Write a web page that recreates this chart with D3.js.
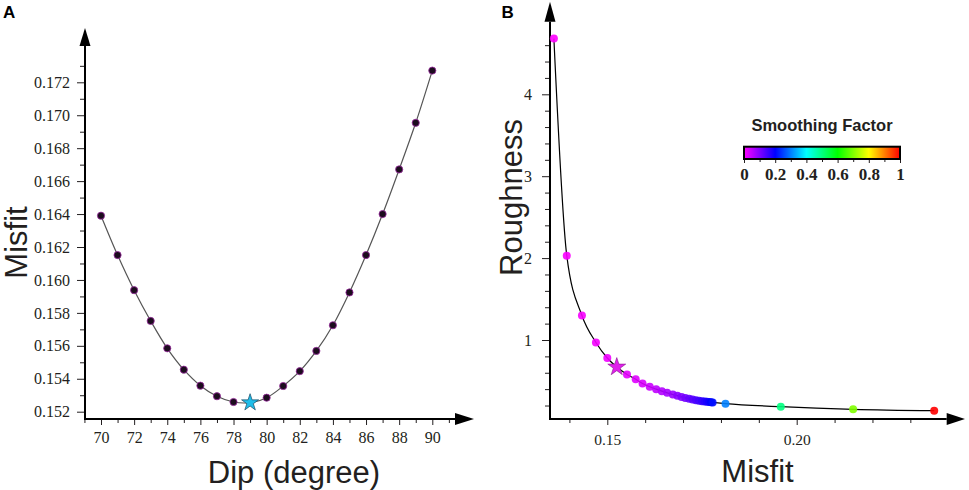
<!DOCTYPE html>
<html>
<head>
<meta charset="utf-8">
<script src="https://cdn.jsdelivr.net/npm/d3@7"></script>
<style>
  body { margin: 0; background: #fff; }
  svg { display: block; }
  .tick text { font-family: "Liberation Serif", "Times New Roman", serif !important; }
</style>
</head>
<body>
<svg width="969" height="490"></svg>
<script>
// panel A : misfit as a function of dip
const dip = [70, 71, 72, 73, 74, 75, 76, 77, 78, 79, 80, 81, 82, 83, 84, 85, 86, 87, 88, 89, 90];
const misfitA = [0.16390, 0.16151, 0.15938, 0.15751, 0.15585, 0.15455, 0.15358, 0.15294, 0.15259, 0.15255,
                 0.15285, 0.15356, 0.15446, 0.15569, 0.15725, 0.15924, 0.16151, 0.16400, 0.16671, 0.16954, 0.17271];
const bestDip = 79;
const dipTicks = [70, 72, 74, 76, 78, 80, 82, 84, 86, 88, 90];
const misfitTicks = [0.152, 0.154, 0.156, 0.158, 0.160, 0.162, 0.164, 0.166, 0.168, 0.170, 0.172];

// panel B : L-curve, roughness vs misfit, coloured by smoothing factor
const misfitB = [0.1359, 0.1393, 0.1433, 0.1470, 0.1500, 0.1525, 0.1552, 0.1575, 0.1593, 0.1612,
                 0.1629, 0.1644, 0.1658, 0.1673, 0.1685, 0.1696, 0.1706, 0.1716, 0.1725, 0.1734,
                 0.1742, 0.1750, 0.1757, 0.1763, 0.1769, 0.1774, 0.1778, 0.1812, 0.1958, 0.2149, 0.2363];
const roughness = [4.68, 2.03, 1.30, 0.97, 0.78, 0.67, 0.58, 0.52, 0.47, 0.43,
                   0.40, 0.375, 0.355, 0.335, 0.320, 0.305, 0.293, 0.282, 0.272, 0.264,
                   0.257, 0.252, 0.248, 0.245, 0.242, 0.240, 0.238, 0.222, 0.186, 0.154, 0.137];
const smoothing = [0.000, 0.003, 0.006, 0.009, 0.012, 0.015, 0.020, 0.025, 0.030, 0.040,
                   0.050, 0.060, 0.070, 0.080, 0.090, 0.100, 0.110, 0.120, 0.130, 0.140,
                   0.150, 0.160, 0.170, 0.180, 0.190, 0.200, 0.210, 0.30, 0.50, 0.70, 1.00];
const bestIndex = 5;
const roughTicks = [1, 2, 3, 4];
const misfitBTicks = [0.15, 0.20];
const barTicks = [0, 0.2, 0.4, 0.6, 0.8, 1];

const svg = d3.select("svg");
const ink = "#231f20";
const serif = "'Liberation Serif', 'Times New Roman', serif";
const sans = "'Liberation Sans', Arial, sans-serif";

const color = d3.scaleLinear()
    .domain([0, 0.2, 0.4, 0.6, 0.8, 1])
    .range(["#ff00ff", "#0000ff", "#00ffff", "#00ff00", "#ffff00", "#ff0000"]);

// helper: axis line with a filled arrow head
function arrowAxis(g, x1, y1, x2, y2, tipX, tipY) {
  g.append("line")
      .attr("x1", x1).attr("y1", y1).attr("x2", x2).attr("y2", y2)
      .attr("stroke", "#000").attr("stroke-width", 2);
  let pts;
  if (tipX === x2) pts = [[tipX, tipY], [x2 - 5.5, y2], [x2 + 5.5, y2]];
  else pts = [[tipX, tipY], [x2, y2 - 6], [x2, y2 + 6]];
  g.append("path").attr("d", "M" + pts.join("L") + "Z").attr("fill", "#000");
}

function styleAxis(sel, size) {
  sel.attr("font-family", serif).attr("font-size", size);
  sel.select(".domain").remove();
  sel.selectAll(".tick line").attr("stroke", ink).attr("stroke-width", 1);
  sel.selectAll(".tick text")
      .attr("fill", ink)
      .style("font-family", serif)
      .style("font-size", size + "px");
}

/* ---------------- panel A ---------------- */
const xA = d3.scaleLinear().domain([70, 90]).range([101, 432.3]);
const yA = d3.scaleLinear().domain([0.152, 0.172]).range([411.7, 82.3]);
const gA = svg.append("g");

// minor ticks
gA.append("g").attr("transform", "translate(0,419)")
    .call(d3.axisBottom(xA).tickValues([69, 71, 73, 75, 77, 79, 81, 83, 85, 87, 89, 91]).tickSize(4).tickFormat(""))
    .call(s => styleAxis(s, 15));
gA.append("g").attr("transform", "translate(0,419)")
    .call(d3.axisBottom(xA).tickValues(dipTicks).tickSize(6).tickPadding(7))
    .call(s => styleAxis(s, 16));
gA.append("g").attr("transform", "translate(85,0)")
    .call(d3.axisLeft(yA).tickValues(misfitTicks.map(v => v + 0.001)).tickSize(5).tickFormat(""))
    .call(s => styleAxis(s, 15));
gA.append("g").attr("transform", "translate(85,0)")
    .call(d3.axisLeft(yA).tickValues(misfitTicks).tickSize(8).tickPadding(7).tickFormat(d3.format(".3f")))
    .call(s => styleAxis(s, 16));

arrowAxis(gA, 85, 419, 85, 46, 85, 28);
arrowAxis(gA, 84, 419, 455, 419, 474, 419);

gA.append("path")
    .datum(dip.map((d, i) => [d, misfitA[i]]))
    .attr("fill", "none").attr("stroke", "#555").attr("stroke-width", 1.2)
    .attr("d", d3.line().x(d => xA(d[0])).y(d => yA(d[1])).curve(d3.curveCatmullRom));

gA.selectAll("circle")
    .data(dip.map((d, i) => [d, misfitA[i]]).filter(d => d[0] !== bestDip))
    .enter().append("circle")
      .attr("cx", d => xA(d[0])).attr("cy", d => yA(d[1])).attr("r", 3.6)
      .attr("fill", "#1c0c1e").attr("stroke", "#9b2aa0").attr("stroke-width", 0.8);

gA.append("path")
    .attr("d", d3.symbol(d3.symbolStar, 90)())
    .attr("transform", "translate(" + xA(bestDip) + "," + yA(misfitA[dip.indexOf(bestDip)]) + ")")
    .attr("fill", "#1fbde9").attr("stroke", "#1b4a66").attr("stroke-width", 0.7);

gA.append("text").attr("x", 3).attr("y", 17.5)
    .attr("font-family", sans).attr("font-weight", "bold")
    .attr("font-size", 17).attr("fill", "#000").text("A");
gA.append("text").attr("transform", "translate(27,242.5) rotate(-90)")
    .attr("text-anchor", "middle").attr("font-family", sans)
    .attr("font-size", 31).attr("fill", ink).text("Misfit");
gA.append("text").attr("x", 294).attr("y", 483)
    .attr("text-anchor", "middle").attr("font-family", sans)
    .attr("font-size", 31).attr("fill", ink).text("Dip (degree)");

/* ---------------- panel B ---------------- */
const xB = d3.scaleLinear().domain([0.15, 0.20]).range([607.3, 796.7]);
const yB = d3.scaleLinear().domain([0, 5]).range([421.9, 12.4]);
const gB = svg.append("g");

gB.append("g").attr("transform", "translate(0,419)")
    .call(d3.axisBottom(xB).tickValues([0.14, 0.16, 0.17, 0.18, 0.19, 0.21, 0.22, 0.23]).tickSize(4).tickFormat(""))
    .call(s => styleAxis(s, 15));
gB.append("g").attr("transform", "translate(0,419)")
    .call(d3.axisBottom(xB).tickValues(misfitBTicks).tickSize(6).tickPadding(9).tickFormat(d3.format(".2f")))
    .call(s => styleAxis(s, 15.5));
gB.append("g").attr("transform", "translate(550,0)")
    .call(d3.axisLeft(yB).tickValues([0.2, 0.4, 0.6, 0.8, 1.2, 1.4, 1.6, 1.8, 2.2, 2.4, 2.6, 2.8,
                                      3.2, 3.4, 3.6, 3.8, 4.2, 4.4, 4.6]).tickSize(5).tickFormat(""))
    .call(s => styleAxis(s, 15));
gB.append("g").attr("transform", "translate(550,0)")
    .call(d3.axisLeft(yB).tickValues(roughTicks).tickSize(8).tickPadding(10).tickFormat(d3.format("d")))
    .call(s => styleAxis(s, 16));

arrowAxis(gB, 550, 419, 550, 21.7, 550, 1.7);
arrowAxis(gB, 549, 419, 946.7, 419, 965, 419);

const ptsB = misfitB.map((m, i) => ({ m: m, r: roughness[i], s: smoothing[i] }));

gB.append("path")
    .datum(ptsB)
    .attr("fill", "none").attr("stroke", "#000").attr("stroke-width", 1.2)
    .attr("d", d3.line().x(d => xB(d.m)).y(d => yB(d.r)).curve(d3.curveMonotoneX));

gB.selectAll("circle")
    .data(ptsB.filter((d, i) => i !== bestIndex))
    .enter().append("circle")
      .attr("cx", d => xB(d.m)).attr("cy", d => yB(d.r)).attr("r", 4)
      .attr("fill", d => color(d.s)).attr("fill-opacity", 0.9);

gB.append("path")
    .attr("d", d3.symbol(d3.symbolStar, 100)())
    .attr("transform", "translate(" + xB(misfitB[bestIndex]) + "," + yB(roughness[bestIndex]) + ")")
    .attr("fill", "#e020ea").attr("stroke", "#8a1a90").attr("stroke-width", 0.6);

gB.append("text").attr("x", 501.5).attr("y", 17.5)
    .attr("font-family", sans).attr("font-weight", "bold")
    .attr("font-size", 17).attr("fill", "#000").text("B");
gB.append("text").attr("transform", "translate(521.7,197.5) rotate(-90)")
    .attr("text-anchor", "middle").attr("font-family", sans)
    .attr("font-size", 31).attr("fill", ink).text("Roughness");
gB.append("text").attr("x", 757.5).attr("y", 481.7)
    .attr("text-anchor", "middle").attr("font-family", sans)
    .attr("font-size", 31).attr("fill", ink).text("Misfit");

/* ---------------- colour bar ---------------- */
const xBar = d3.scaleLinear().domain([0, 1]).range([744, 900]);
const grad = svg.append("defs").append("linearGradient").attr("id", "sf");
color.domain().forEach(v => {
  grad.append("stop").attr("offset", v * 100 + "%").attr("stop-color", color(v));
});

const gC = svg.append("g");
gC.append("text").attr("x", (xBar(0) + xBar(1)) / 2).attr("y", 131)
    .attr("text-anchor", "middle").attr("font-family", sans)
    .attr("font-weight", "bold").attr("font-size", 16.5).attr("fill", ink).text("Smoothing Factor");
gC.append("g").attr("transform", "translate(0,159)")
    .call(d3.axisBottom(xBar).tickValues([0.1, 0.3, 0.5, 0.7, 0.9]).tickSize(3).tickFormat(""))
    .call(s => styleAxis(s, 15));
gC.append("g").attr("transform", "translate(0,159)")
    .call(d3.axisBottom(xBar).tickValues(barTicks).tickSize(4).tickPadding(5).tickFormat(d => d === 0 || d === 1 ? d : d.toFixed(1)))
    .call(s => styleAxis(s, 17))
    .call(s => s.selectAll(".tick text").attr("font-weight", "bold"));
gC.append("rect")
    .attr("x", xBar(0)).attr("y", 146.7).attr("width", xBar(1) - xBar(0)).attr("height", 12.3)
    .attr("fill", "url(#sf)").attr("stroke", "#000").attr("stroke-width", 2);
</script>
</body>
</html>
